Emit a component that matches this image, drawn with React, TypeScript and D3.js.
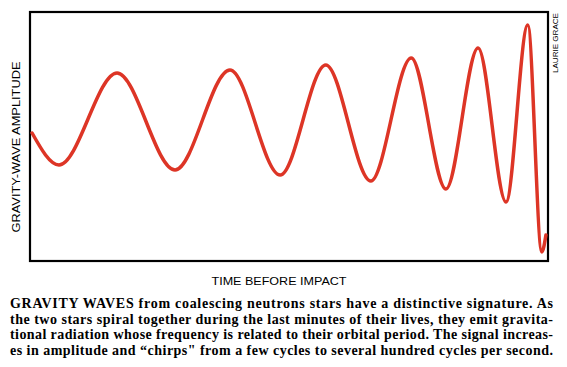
import React from 'react'
import * as d3 from 'd3'

// extrema of the chirp (time 0..100, amplitude in arbitrary units)
const time = [0.4, 5.6, 16.8, 28.0, 38.6, 48.3, 57.1, 65.8, 73.6, 80.3, 86.5, 91.9, 96.1, 98.8, 99.6]
const amplitude = [-11, -43, 49, -48, 52, -53, 57, -59, 64, -67, 74, -80, 97, -130, -113]

const captionLines = [
  'GRAVITY WAVES from coalescing neutrons stars have a distinctive signature. As',
  'the two stars spiral together during the last minutes of their lives, they emit gravita-',
  'tional radiation whose frequency is related to their orbital period. The signal increas-',
  'es in amplitude and \u201cchirps" from a few cycles to several hundred cycles per second.',
]

const W = 567
const H = 367
const frame = { left: 30, right: 548, top: 12, bottom: 261 }

export default function App() {
  const x = d3.scaleLinear().domain([0, 100]).range([frame.left, frame.right])
  const y = d3.scaleLinear().domain([-139, 110]).range([frame.bottom, frame.top])

  const points = time.map((t, i) => [t, amplitude[i]] as [number, number])
  const line = d3
    .line<[number, number]>()
    .x((d) => x(d[0]))
    .y((d) => y(d[1]))
    .curve(d3.curveMonotoneX)

  return (
    <svg width={W} height={H} style={{ position: 'absolute', left: 0, top: 0, background: '#fff' }}>
      <rect
        x={frame.left}
        y={frame.top}
        width={frame.right - frame.left}
        height={frame.bottom - frame.top}
        fill="none"
        stroke="#000"
        strokeWidth={2.2}
      />
      <path d={line(points) ?? ''} fill="none" stroke="#dd3526" strokeWidth={3.5} strokeLinecap="round" />

      <text
        transform={`translate(17,147) rotate(-90)`}
        textAnchor="middle"
        dominantBaseline="middle"
        fontFamily="'Liberation Sans', Arial, sans-serif"
        fontSize={11.5}
        textLength={171}
        lengthAdjust="spacingAndGlyphs"
      >
        GRAVITY-WAVE AMPLITUDE
      </text>
      <text
        x={279}
        y={285}
        textAnchor="middle"
        fontFamily="'Liberation Sans', Arial, sans-serif"
        fontSize={11.5}
        textLength={135}
        lengthAdjust="spacingAndGlyphs"
      >
        TIME BEFORE IMPACT
      </text>
      <text
        transform={`translate(558,43) rotate(-90)`}
        textAnchor="middle"
        fontFamily="'Liberation Sans', Arial, sans-serif"
        fontSize={8}
        textLength={60}
        lengthAdjust="spacingAndGlyphs"
      >
        LAURIE GRACE
      </text>

      {captionLines.map((l, i) => (
        <text
          key={i}
          x={10}
          y={308 + i * 15.6}
          fontFamily="'Liberation Serif', 'Times New Roman', serif"
          fontWeight="bold"
          fontSize={14}
          textLength={543}
          lengthAdjust="spacing"
        >
          {l}
        </text>
      ))}
    </svg>
  )
}
